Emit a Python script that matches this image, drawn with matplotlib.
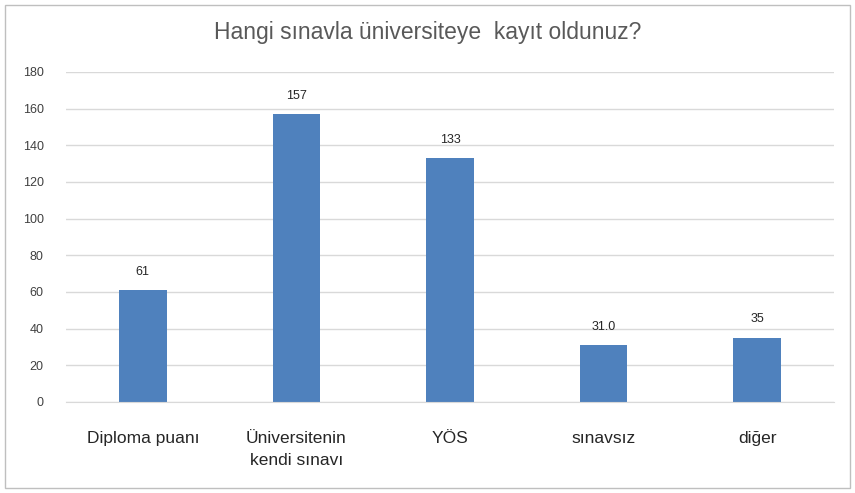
import matplotlib
matplotlib.use("Agg")
import matplotlib.pyplot as plt
from matplotlib.patches import Rectangle

categories = ["Diploma puanı", "Üniversitenin\nkendi sınavı", "YÖS", "sınavsız", "diğer"]
values = [61, 157, 133, 31, 35]
value_labels = ["61", "157", "133", "31.0", "35"]
yticks = [0, 20, 40, 60, 80, 100, 120, 140, 160, 180]
title = "Hangi sınavla üniversiteye  kayıt oldunuz?"

plt.rcParams['font.family'] = ['Liberation Sans', 'DejaVu Sans']

fig = plt.figure(figsize=(8.55, 4.93), dpi=100)
fig.patch.set_facecolor("white")
fig.add_artist(Rectangle((5/855, 5/493), 845/855, 483/493, transform=fig.transFigure,
                         fill=False, edgecolor="#BFBFBF", linewidth=1.0))

ax = fig.add_axes([66/855, 1-402/493, 768/855, 330/493])
x = list(range(len(categories)))
bars = ax.bar(x, values, width=0.31, color="#4F81BD", zorder=3)
for xi, v, lab in zip(x, values, value_labels):
    ax.annotate(lab, (xi, v), xytext=(0, 9), textcoords="offset points",
                ha="center", va="bottom", fontsize=9, color="#262626")

ax.set_xlim(-0.5, len(categories) - 0.5)
ax.set_ylim(0, 180)
ax.set_yticks(yticks)
ax.set_yticklabels([str(t) for t in yticks], fontsize=9, color="#404040")
ax.set_xticks(x)
ax.set_xticklabels(categories, fontsize=12.5, color="#262626", linespacing=1.55)
ax.tick_params(axis="both", length=0)
ax.tick_params(axis="x", pad=21)
ax.tick_params(axis="y", pad=16)
ax.yaxis.grid(True, color="#D9D9D9", linewidth=1.0, zorder=0)
for s in ["top", "right", "left"]:
    ax.spines[s].set_visible(False)
ax.spines["bottom"].set_color("#D9D9D9")
ax.spines["bottom"].set_zorder(4)

fig.text(0.5, 1-33/493, title, ha="center", va="center", fontsize=16.5, color="#595959")

fig.savefig("out.png", dpi=100)
